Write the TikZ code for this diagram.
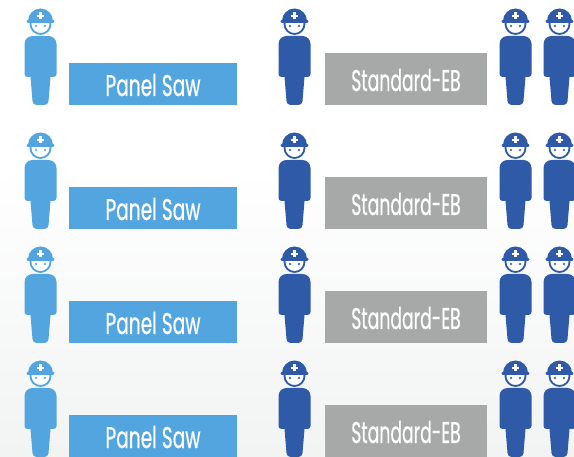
\documentclass[tikz,border=0pt]{standalone}
\usepackage{fontspec}
\newfontfamily\labelfont[FakeStretch=0.62,FakeBold=0.5]{Poppins}
\newfontfamily\stdfont[FakeStretch=0.575,FakeBold=0.5]{Poppins}
\definecolor{lightblue}{HTML}{52A5DE}
\definecolor{darkblue}{HTML}{2E5AA8}
\definecolor{boxgray}{HTML}{A7A9A9}
\definecolor{bgbottom}{HTML}{F2F3F3}
\tikzset{
  x=1pt,y=1pt,
  pics/person/.style={code={
    % head ring
    \fill[white] (0,-15) circle[radius=10];
    \draw[#1,line width=1.8pt] (0,-15) circle[radius=10];
    % eyes
    \fill[#1!85!white] (-4.5,-17) circle[radius=1.4];
    \fill[#1!85!white] (4.5,-17) circle[radius=1.4];
    % helmet
    \fill[#1] (-12.5,-12) arc[start angle=180,end angle=0,radius=12.5] -- cycle;
    \fill[#1,rounded corners=1pt] (-13.8,-11) rectangle (13.8,-13.8);
    \fill[white] (-3.5,-5.6) rectangle (3.5,-7.8);
    \fill[white] (-1.1,-3.2) rectangle (1.1,-10.2);
    % body
    \fill[#1] (-16,-63) -- (-16,-35) arc[start angle=180,end angle=90,radius=8]
      -- (8,-27) arc[start angle=90,end angle=0,radius=8]
      -- (16,-65) arc[start angle=0,end angle=-90,radius=3]
      -- (10,-68) -- (8,-92) arc[start angle=0,end angle=-90,radius=4]
      -- (-4,-96) arc[start angle=-90,end angle=-180,radius=4]
      -- (-10,-68) -- (-13,-68) arc[start angle=-90,end angle=-180,radius=3] -- cycle;
  }},
  bluebox/.style={fill=lightblue,draw=none,inner sep=0pt,minimum width=168.5pt,minimum height=42pt,anchor=south west},
  graybox/.style={fill=boxgray,draw=none,inner sep=0pt,minimum width=162.5pt,minimum height=52pt,anchor=south west},
  boxtext/.style={text=white,inner sep=0pt,anchor=base},
  paneltext/.style={boxtext,font=\labelfont\fontsize{30}{30}\selectfont},
  stdtext/.style={boxtext,font=\stdfont\fontsize{30}{30}\selectfont},
}
\begin{document}
\begin{tikzpicture}
\useasboundingbox (0,0) rectangle (574,456);
\clip (0,0) rectangle (574,456);
\fill[white] (0,0) rectangle (574,456);
\shade[top color=white,bottom color=bgbottom] (0,0) rectangle (574,286);
\foreach \n/\off in {a/0,b/124,c/238,d/352}{
  \pgfmathsetmacro{\top}{447-\off}
  \pgfmathsetmacro{\bot}{351-\off}
  \pic at (40.5,\top) {person=lightblue};
  \pic at (294.5,\top) {person=darkblue};
  \pic at (515.5,\top) {person=darkblue};
  \pic at (559.5,\top) {person=darkblue};
  \node[bluebox] (panel\n) at (68.5,\bot) {};
  \node[graybox] (std\n) at (324.5,\bot) {};
  \node[paneltext] (paneltext\n) at (153,\bot+9) {Panel Saw};
  \node[stdtext] (stdtext\n) at (406,\bot+14) {Standard-EB};
}
\end{tikzpicture}
\end{document}
